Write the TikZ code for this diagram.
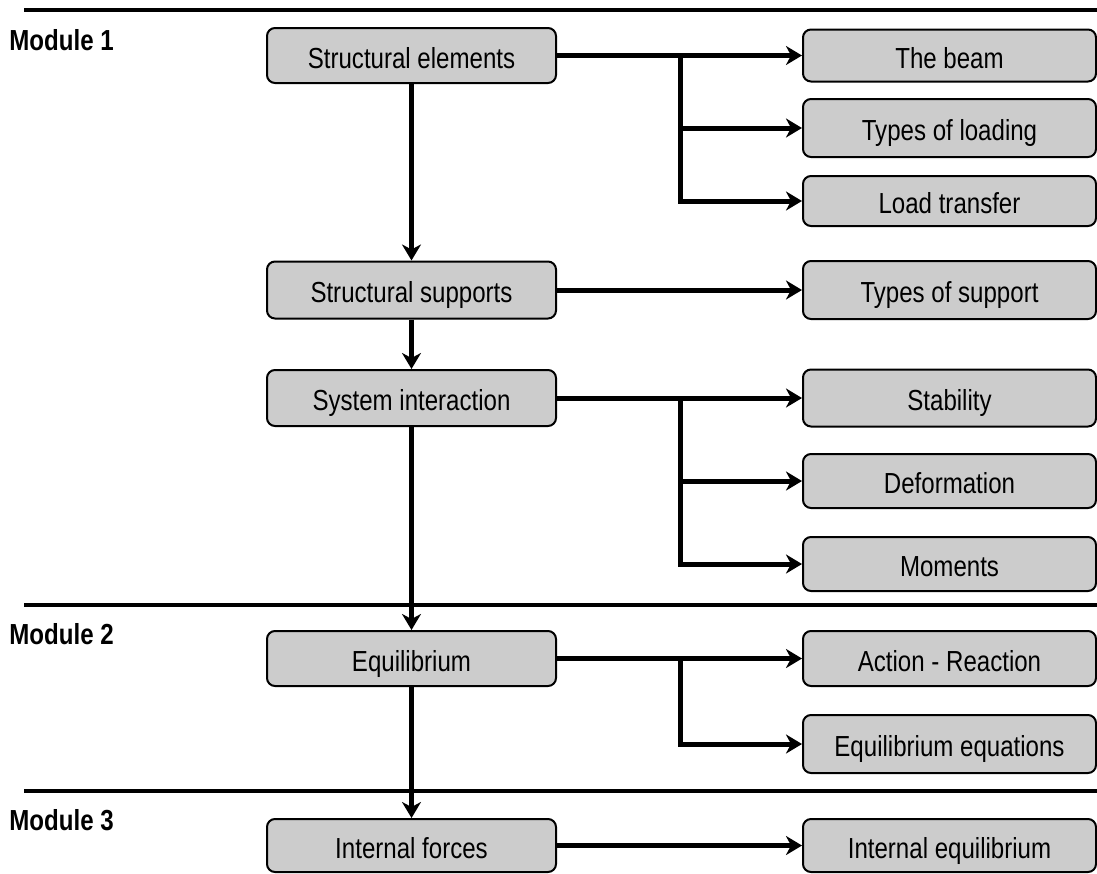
\documentclass[tikz,border=0pt]{standalone}
\usepackage{fontspec}
\setmainfont{Liberation Sans}[FakeStretch=0.83]
\usetikzlibrary{arrows.meta}
\begin{document}
\begin{tikzpicture}[x=0.5pt,y=-0.5pt,
  box/.style={draw=black, line width=1pt, fill=black!20, rounded corners=4pt,
    minimum height=27.5pt, inner sep=0pt, text height=13pt, text depth=0.5pt,
    font=\fontsize{14.5}{16}\selectfont},
  lbox/.style={box, minimum width=144.5pt},
  rbox/.style={box, minimum width=146.5pt},
  conn/.style={line width=2.5pt, -{Stealth[length=8pt,width=9.5pt,inset=2.5pt]}, line join=miter},
  sect/.style={line width=1.75pt},
  modlabel/.style={anchor=base west, inner sep=0pt, font=\bfseries\fontsize{14.5}{16}\selectfont}]
\useasboundingbox (0,0) rectangle (1097,873);

% section rules
\draw[sect] (24,10) -- (1097,10);
\draw[sect] (24,605) -- (1097,605);
\draw[sect] (24,791) -- (1097,791);

% module labels
\node[modlabel] (m1) at (9,50) {Module 1};
\node[modlabel] (m2) at (9,644) {Module 2};
\node[modlabel] (m3) at (9,830) {Module 3};

% left column
\node[lbox] (L1) at (411.5,55.5) {Structural elements};
\node[lbox, minimum height=28.5pt] (L2) at (411.5,290) {Structural supports};
\node[lbox, minimum height=28pt] (L3) at (411.5,398) {System interaction};
\node[lbox] (L4) at (411.5,658.5) {Equilibrium};
\node[lbox, minimum height=26.5pt] (L5) at (411.5,845.5) {Internal forces};

% right column
\node[rbox, minimum height=26pt] (R1) at (949.5,55.5) {The beam};
\node[rbox, minimum height=29pt] (R2) at (949.5,128) {Types of loading};
\node[rbox, minimum height=25pt] (R3) at (949.5,201) {Load transfer};
\node[rbox, minimum height=29pt] (R4) at (949.5,290) {Types of support};
\node[rbox, minimum height=28.5pt] (R5) at (949.5,398) {Stability};
\node[rbox, minimum height=27pt] (R6) at (949.5,481) {Deformation};
\node[rbox, minimum height=27pt] (R7) at (949.5,564) {Moments};
\node[rbox] (R8) at (949.5,658.5) {Action - Reaction};
\node[rbox, minimum height=29pt] (R9) at (949.5,744) {Equilibrium equations};
\node[rbox, minimum height=26.5pt] (R10) at (949.5,845.5) {Internal equilibrium};

\coordinate (bx) at (680,0);

% vertical flow
\draw[conn] (L1.south) -- (L2.north);
\draw[conn] (L2.south) -- (L3.north);
\draw[conn] (L3.south) -- (L4.north);
\draw[conn] (L4.south) -- (L5.north);

% branches
\draw[conn] (L1.east) -- (R1.west);
\draw[conn] (L1.east -| bx) |- (R2.west);
\draw[conn] (L1.east -| bx) |- (R3.west);

\draw[conn] (L2.east) -- (R4.west);

\draw[conn] (L3.east) -- (R5.west);
\draw[conn] (L3.east -| bx) |- (R6.west);
\draw[conn] (L3.east -| bx) |- (R7.west);

\draw[conn] (L4.east) -- (R8.west);
\draw[conn] (L4.east -| bx) |- (R9.west);

\draw[conn] (L5.east) -- (R10.west);
\end{tikzpicture}
\end{document}
